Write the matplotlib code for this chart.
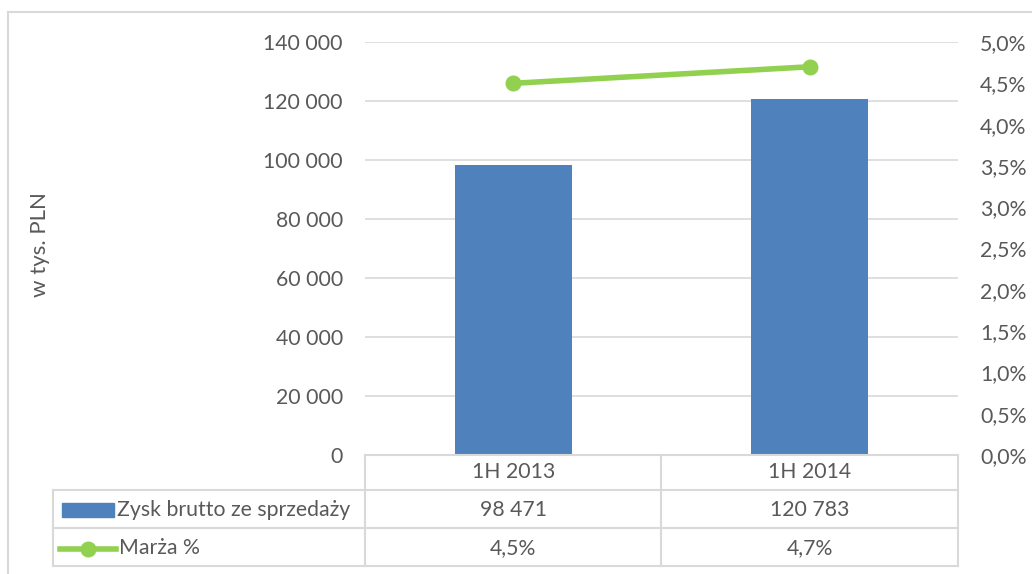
import matplotlib.pyplot as plt
from matplotlib.lines import Line2D
from matplotlib.patches import Rectangle
from matplotlib.ticker import FuncFormatter, MultipleLocator
from matplotlib.transforms import blended_transform_factory

plt.rcParams['font.family'] = ['Lato', 'DejaVu Sans']

categories = ['1H 2013', '1H 2014']
gross_profit = [98471, 120783]
margin_pct = [4.5, 4.7]
bar_label = 'Zysk brutto ze sprzedaży'
line_label = 'Marża %'

W, H = 1032, 574
TXT = '#595959'
GRID = '#d9d9d9'
BLUE = '#4f81bd'
GREEN = '#92d050'
FS = 15.3


def fx(px):
    return px / W


def fy(py):
    return 1 - py / H


fig = plt.figure(figsize=(W / 100, H / 100), dpi=100)

# outer chart frame (cropped on right/bottom)
fig.add_artist(Line2D([fx(8), fx(8)], [fy(12), fy(574)], color=GRID, lw=1.5))
fig.add_artist(Line2D([fx(8), fx(1032)], [fy(12), fy(12)], color=GRID, lw=1.5))

ax = fig.add_axes([fx(365), fy(455), fx(958) - fx(365), fy(42) - fy(455)])
x = list(range(len(categories)))
ax.bar(x, gross_profit, width=0.395, color=BLUE, zorder=2)
ax.set_xlim(-0.5, len(categories) - 0.5)
ax.set_ylim(0, 140000)
ax.yaxis.set_major_locator(MultipleLocator(20000))
ax.yaxis.set_major_formatter(FuncFormatter(lambda v, p: f'{int(v):,}'.replace(',', ' ')))
ax.grid(axis='y', color=GRID, lw=1.2, zorder=0)
ax.set_xticks([])
ax.tick_params(axis='y', length=0, pad=16, labelsize=FS, labelcolor=TXT)
for s in ax.spines.values():
    s.set_visible(False)

ax2 = ax.twinx()
ax2.plot(x, [m / 100 for m in margin_pct], color=GREEN, lw=4, marker='o', ms=10.5, zorder=3)
ax2.set_ylim(0, 0.05)
ax2.yaxis.set_major_locator(MultipleLocator(0.005))
ax2.yaxis.set_major_formatter(FuncFormatter(lambda v, p: f'{v * 100:.1f}%'.replace('.', ',')))
ax2.tick_params(axis='y', length=0, pad=16, labelsize=FS, labelcolor=TXT)
for s in ax2.spines.values():
    s.set_visible(False)

fig.text(fx(40), fy(245), 'w tys. PLN', rotation=90, ha='center', va='center', fontsize=16, color=TXT)

# data table
lw = 1.5
fig.add_artist(Line2D([fx(365), fx(958)], [fy(455), fy(455)], color=GRID, lw=lw))
for yy in [490, 528, 566]:
    fig.add_artist(Line2D([fx(53), fx(958)], [fy(yy), fy(yy)], color=GRID, lw=lw))
fig.add_artist(Line2D([fx(53), fx(53)], [fy(490), fy(566)], color=GRID, lw=lw))
for xx in [365, 661, 958]:
    fig.add_artist(Line2D([fx(xx), fx(xx)], [fy(455), fy(566)], color=GRID, lw=lw))

blend = blended_transform_factory(ax.transData, fig.transFigure)
for i, cat in enumerate(categories):
    fig.text(i, fy(472), cat, transform=blend, ha='center', va='center', fontsize=FS, color=TXT)
    fig.text(i, fy(510), f'{gross_profit[i]:,}'.replace(',', ' '), transform=blend,
             ha='center', va='center', fontsize=FS, color=TXT)
    fig.text(i, fy(548), f'{margin_pct[i]:.1f}%'.replace('.', ','), transform=blend,
             ha='center', va='center', fontsize=FS, color=TXT)

# legend keys in table
fig.add_artist(Rectangle((fx(62), fy(517)), fx(114) - fx(62), fy(503) - fy(517), color=BLUE))
fig.text(fx(117), fy(510), bar_label, ha='left', va='center', fontsize=FS, color=TXT)
fig.add_artist(Line2D([fx(60), fx(116)], [fy(549), fy(549)], color=GREEN, lw=4))
fig.add_artist(Line2D([fx(88)], [fy(549)], color=GREEN, marker='o', ms=10.5))
fig.text(fx(119), fy(548), line_label, ha='left', va='center', fontsize=FS, color=TXT)

fig.savefig('out.png', dpi=100)
